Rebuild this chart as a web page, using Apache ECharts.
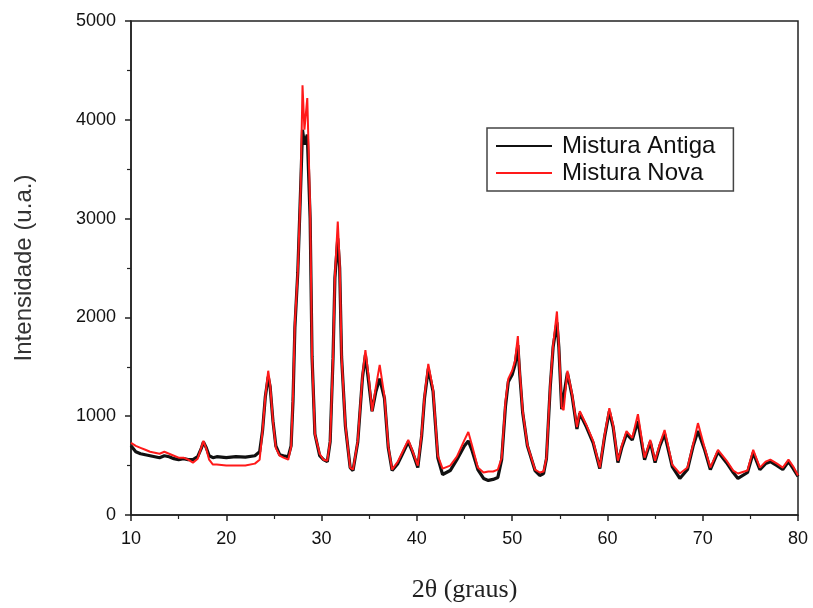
<!DOCTYPE html>
<html>
<head>
<meta charset="utf-8">
<script src="https://cdn.jsdelivr.net/npm/echarts@6/dist/echarts.min.js"></script>
<style>
  html, body { margin: 0; padding: 0; background: #fff; }
  #main { width: 813px; height: 608px; }
</style>
</head>
<body>
<div id="main"></div>
<script>
var angulos = [10.0, 10.5, 11.0, 11.5, 12.0, 12.5, 13.0, 13.5, 14.0, 14.5, 15.0, 15.5, 16.0, 16.5, 17.0, 17.4, 17.6, 17.9, 18.2, 18.6,
  19.0, 20.0, 21.0, 22.0, 23.0, 23.5, 23.8, 24.1, 24.4, 24.6, 24.9, 25.2, 25.6, 26.0, 26.5, 26.8, 27.0, 27.2, 27.5, 27.8,
  28.0, 28.2, 28.5, 28.8, 29.0, 29.3, 29.8, 30.2, 30.6, 30.9, 31.2, 31.4, 31.7, 31.9, 32.1, 32.5, 33.0, 33.3, 33.8, 34.3,
  34.6, 35.0, 35.3, 35.7, 36.1, 36.6, 37.0, 37.4, 38.0, 38.4, 39.1, 39.5, 40.1, 40.5, 40.8, 41.2, 41.7, 42.2, 42.7, 43.5,
  44.2, 45.0, 45.4, 45.8, 46.4, 47.0, 47.5, 48.0, 48.5, 48.9, 49.3, 49.6, 50.0, 50.3, 50.6, 50.8, 51.1, 51.6, 52.4, 52.9,
  53.3, 53.6, 54.0, 54.3, 54.7, 54.9, 55.2, 55.4, 55.8, 56.3, 56.8, 57.1, 57.8, 58.5, 59.2, 59.7, 60.2, 60.6, 61.1, 61.5,
  62.0, 62.6, 63.2, 63.9, 64.5, 65.0, 65.5, 66.0, 66.8, 67.6, 68.4, 69.0, 69.5, 70.2, 70.8, 71.6, 72.5, 73.2, 73.7, 74.7,
  75.3, 76.0, 76.6, 77.1, 77.8, 78.4, 79.0, 79.5, 80.0];

var misturaAntiga = [700, 640, 620, 610, 600, 590, 580, 600, 590, 570, 560, 570, 560, 560, 590, 680, 740, 680, 600, 580,
  590, 580, 590, 585, 600, 640, 850, 1200, 1400, 1300, 950, 700, 610, 600, 590, 700, 1150, 1900, 2450, 3300,
  3900, 3750, 3850, 3000, 1600, 820, 600, 560, 540, 740, 1580, 2400, 2800, 2500, 1600, 900, 480, 450, 740, 1400,
  1620, 1300, 1050, 1250, 1380, 1180, 680, 450, 520, 600, 740, 650, 480, 800, 1180, 1480, 1250, 580, 410, 450,
  560, 700, 750, 650, 460, 370, 350, 360, 380, 560, 1100, 1350, 1420, 1520, 1720, 1420, 1040, 700, 450, 400,
  420, 570, 1300, 1700, 1950, 1700, 1070, 1050, 1440, 1200, 870, 1030, 890, 730, 470, 790, 1050, 890, 530, 680,
  820, 760, 950, 560, 740, 530, 700, 820, 490, 370, 460, 700, 850, 660, 460, 640, 530, 430, 370, 430,
  630, 460, 520, 540, 500, 460, 540, 470, 390];

var misturaNova = [730, 700, 680, 660, 640, 630, 620, 640, 620, 600, 580, 580, 560, 530, 570, 690, 750, 670, 560, 510,
  510, 500, 500, 500, 520, 560, 850, 1200, 1460, 1320, 950, 680, 600, 580, 560, 690, 1200, 1950, 2450, 3300,
  4350, 3900, 4220, 3100, 1600, 820, 620, 560, 550, 750, 1580, 2420, 2970, 2550, 1600, 910, 480, 460, 750, 1420,
  1670, 1350, 1050, 1300, 1520, 1200, 700, 460, 540, 620, 760, 660, 500, 820, 1200, 1530, 1270, 600, 470, 500,
  590, 760, 840, 700, 480, 430, 440, 440, 460, 580, 1150, 1380, 1460, 1560, 1810, 1450, 1060, 710, 460, 430,
  440, 580, 1320, 1720, 2060, 1720, 1090, 1060, 1460, 1220, 890, 1050, 910, 750, 480, 810, 1080, 910, 550, 700,
  850, 780, 1020, 580, 760, 550, 720, 860, 510, 420, 480, 720, 930, 680, 480, 660, 550, 450, 420, 450,
  660, 480, 540, 560, 520, 480, 560, 490, 400];

var nomesSeries = ['Mistura Antiga', 'Mistura Nova'];

function pares(ys) {
  return angulos.map(function (x, i) { return [x, ys[i]]; });
}

var chart = echarts.init(document.getElementById('main'));

var labelStyle = { color: '#111', fontSize: 18, fontFamily: 'Liberation Sans, Arial, sans-serif' };

var option = {
  animation: false,
  backgroundColor: '#fff',
  grid: {
    left: 131, right: 15, top: 21, bottom: 91,
    show: true, borderColor: '#222', borderWidth: 1.5
  },
  legend: {
    data: nomesSeries,
    orient: 'vertical',
    left: 487, top: 128,
    padding: [6, 18, 6, 9],
    itemGap: 3,
    itemWidth: 56, itemHeight: 2,
    icon: 'rect',
    borderColor: '#444', borderWidth: 1.5,
    textStyle: { color: '#111', fontSize: 24, fontFamily: 'Liberation Sans, Arial, sans-serif', padding: [0, 0, 0, 5] }
  },
  xAxis: {
    type: 'value', min: 10, max: 80, interval: 10,
    name: '2θ (graus)', nameLocation: 'middle', nameGap: 62,
    nameTextStyle: { color: '#222', fontSize: 26, fontFamily: 'Liberation Serif, Times New Roman, serif' },
    axisLine: { onZero: false, lineStyle: { color: '#222', width: 1.5 } },
    axisTick: { inside: false, length: 6, lineStyle: { color: '#222', width: 1.5 } },
    minorTick: { show: true, splitNumber: 2, length: 4, lineStyle: { color: '#222', width: 1.2 } },
    axisLabel: Object.assign({ margin: 15 }, labelStyle),
    splitLine: { show: false }
  },
  yAxis: {
    type: 'value', min: 0, max: 5000, interval: 1000,
    name: 'Intensidade (u.a.)', nameLocation: 'middle', nameGap: 95, nameRotate: 90,
    nameTextStyle: { color: '#333', fontSize: 24, fontFamily: 'Liberation Sans, Arial, sans-serif' },
    axisLine: { show: true, lineStyle: { color: '#222', width: 1.5 } },
    axisTick: { inside: false, length: 6, lineStyle: { color: '#222', width: 1.5 } },
    minorTick: { show: true, splitNumber: 2, length: 4, lineStyle: { color: '#222', width: 1.2 } },
    axisLabel: Object.assign({ margin: 15, formatter: function (v) { return String(v); } }, labelStyle),
    splitLine: { show: false }
  },
  series: [
    {
      name: nomesSeries[0], type: 'line', showSymbol: false, symbol: 'none',
      data: pares(misturaAntiga),
      color: '#111',
      lineStyle: { color: '#111', width: 3.2 },
      z: 2
    },
    {
      name: nomesSeries[1], type: 'line', showSymbol: false, symbol: 'none',
      data: pares(misturaNova),
      color: '#ff1a1a',
      lineStyle: { color: '#ff1a1a', width: 2 },
      z: 3
    }
  ]
};

chart.setOption(option);
</script>
</body>
</html>
